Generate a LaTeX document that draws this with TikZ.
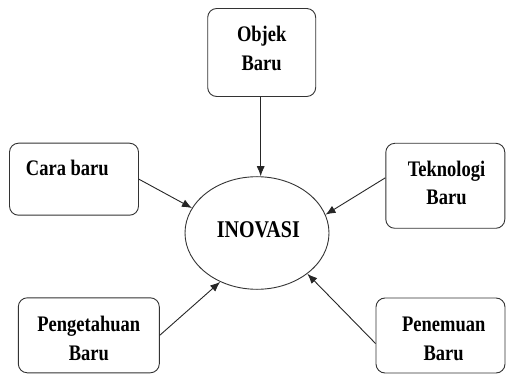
\documentclass[tikz,border=0pt]{standalone}
\usepackage{fontspec}
\usepackage{graphicx}
\setmainfont{Liberation Serif}
\usetikzlibrary{arrows.meta,shapes.geometric}
\newcommand{\tallt}[1]{\scalebox{1}[1.2]{#1}}
\begin{document}
\begin{tikzpicture}[x=1pt,y=-1pt,
  box/.style={draw=black!80, line width=0.9pt, rounded corners=9pt, rectangle, inner sep=0pt},
  lbl/.style={anchor=base, inner sep=0pt, font=\fontsize{18.5}{22}\selectfont\bfseries, text=black},
  conn/.style={draw=black!85, line width=0.9pt, -{Latex[length=10pt,width=8pt]}}
]
\useasboundingbox (0,0) rectangle (506,374);
% boxes
\node[box, minimum width=108pt, minimum height=88pt] (objek) at (261.7,52.5) {};
\node[box, minimum width=129pt, minimum height=72pt] (cara) at (74,179.2) {};
\node[box, minimum width=119pt, minimum height=85pt] (tek) at (445.3,185.8) {};
\node[box, minimum width=141pt, minimum height=75pt] (peng) at (88.8,335.3) {};
\node[box, minimum width=129pt, minimum height=75pt] (pen) at (440.5,335.5) {};
\node[draw=black!80, line width=0.9pt, ellipse, minimum width=144pt, minimum height=112.6pt, inner sep=0pt] (ino) at (257,233) {};
% labels
\node[lbl] (t1a) at (261.7,41.7) {\tallt{Objek}};
\node[lbl] (t1b) at (261.7,70.7) {\tallt{Baru}};
\node[lbl] (t2) at (67.3,176) {\tallt{Cara baru}};
\node[lbl] (t3a) at (446.5,176.7) {\tallt{Teknologi}};
\node[lbl] (t3b) at (446.5,205) {\tallt{Baru}};
\node[lbl] (t4a) at (88.8,331.7) {\tallt{Pengetahuan}};
\node[lbl] (t4b) at (88.8,360) {\tallt{Baru}};
\node[lbl] (t5a) at (443.7,331.7) {\tallt{Penemuan}};
\node[lbl] (t5b) at (443.7,360) {\tallt{Baru}};
\node[lbl, font=\fontsize{20}{24}\selectfont\bfseries] (t6) at (258.3,237.3) {\tallt{INOVASI}};
% connectors
\draw[conn] (objek.south -| 260.7,0) -- (260.7,176.7 |- ino.north);
\draw[conn] (cara.east) -- (ino.159.6);
\draw[conn] ([yshift=8pt]tek.west) -- (ino.15.2);
\draw[conn] (peng.east) -- (ino.233.1);
\draw[conn] ([yshift=-8pt]pen.west) -- (ino.321.2);
\end{tikzpicture}
\end{document}
